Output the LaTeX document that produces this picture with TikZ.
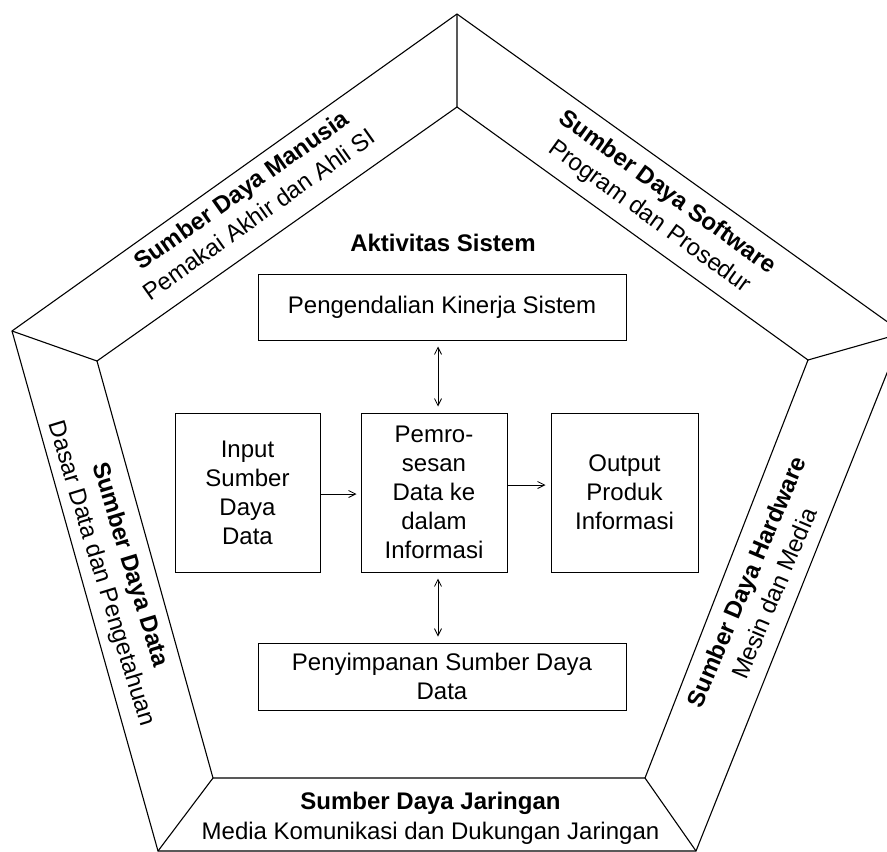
\documentclass[tikz,border=0pt]{standalone}
\usepackage{fontspec}
\setmainfont{Liberation Sans}
\usetikzlibrary{arrows.meta}
\begin{document}
\begin{tikzpicture}[x=1pt,y=-1pt,
  frame/.style={line width=1.1pt, line join=miter},
  box/.style={draw, line width=1pt, align=center, inner sep=0pt, font=\fontsize{24}{29}\selectfont},
  arr/.style={line width=0.8pt, -{Straight Barb[length=7pt,width=7pt]}},
  biarr/.style={line width=0.8pt, {Straight Barb[length=7pt,width=7pt]}-{Straight Barb[length=7pt,width=7pt]}},
  title/.style={font=\fontsize{24}{29}\selectfont\bfseries, inner sep=0pt},
  band/.style={font=\fontsize{24}{30}\selectfont, align=center, inner sep=0pt}]
\useasboundingbox (0,0) rectangle (887,852);
\clip (0,0) rectangle (887,852);
% pentagon vertices
\coordinate (T) at (457,14);
\coordinate (L) at (12,331);
\coordinate (R) at (903,333);
\coordinate (BL) at (158,851);
\coordinate (BR) at (696,851);
\coordinate (t) at (457,107);
\coordinate (l) at (97,361);
\coordinate (r) at (808,360);
\coordinate (bl) at (213,778);
\coordinate (br) at (645,778);
\draw[frame] (T)--(L)--(BL)--(BR)--(R)--cycle;
\draw[frame] (t)--(l)--(bl)--(br)--(r)--cycle;
\draw[frame] (T)--(t) (L)--(l) (R)--(r) (BL)--(bl) (BR)--(br);
% band labels
\node[band, rotate=35.3] (man) at (250,202) {\textbf{Sumber Daya Manusia}\\Pemakai Akhir dan Ahli SI};
\node[band, rotate=-35.8] (sw) at (658,205) {\textbf{Sumber Daya Software}\\Program dan Prosedur};
\node[band, rotate=-73] (dt) at (115,569.5) {\textbf{Sumber Daya Data}\\Dasar Data dan Pengetahuan};
\node[band, rotate=67] (hw) at (760,587.5) {\textbf{Sumber Daya Hardware}\\Mesin dan Media};
\node[band] (jr) at (430.5,818) {\textbf{Sumber Daya Jaringan}\\Media Komunikasi dan Dukungan Jaringan};
% system activities
\node[title] (akt) at (443,243) {Aktivitas Sistem};
\node[box, minimum width=368pt, minimum height=66pt] (pk) at (442,307) {Pengendalian Kinerja Sistem};
\node[box, minimum width=145pt, minimum height=159pt] (inp) at (247.5,492.5) {Input\\Sumber\\Daya\\Data};
\node[box, minimum width=146pt, minimum height=159pt] (pm) at (434,492.5) {Pemro-\\sesan\\Data ke\\dalam\\Informasi};
\node[box, minimum width=147pt, minimum height=159pt] (outp) at (624.5,492.5) {Output\\Produk\\Informasi};
\node[box, minimum width=368pt, minimum height=67pt] (ps) at (442,676.5) {Penyimpanan Sumber Daya\\Data};
% connectors
\coordinate (ax) at (438,0);
\coordinate (ay1) at (0,494);
\coordinate (ay2) at (0,485);
\draw[biarr, shorten <=6pt, shorten >=6pt] (pk.south -| ax) -- (pm.north -| ax);
\draw[biarr, shorten <=6pt, shorten >=6pt] (pm.south -| ax) -- (ps.north -| ax);
\draw[arr, shorten >=4pt] (inp.east |- ay1) -- (pm.west |- ay1);
\draw[arr, shorten >=5pt] (pm.east |- ay2) -- (outp.west |- ay2);
\end{tikzpicture}
\end{document}
